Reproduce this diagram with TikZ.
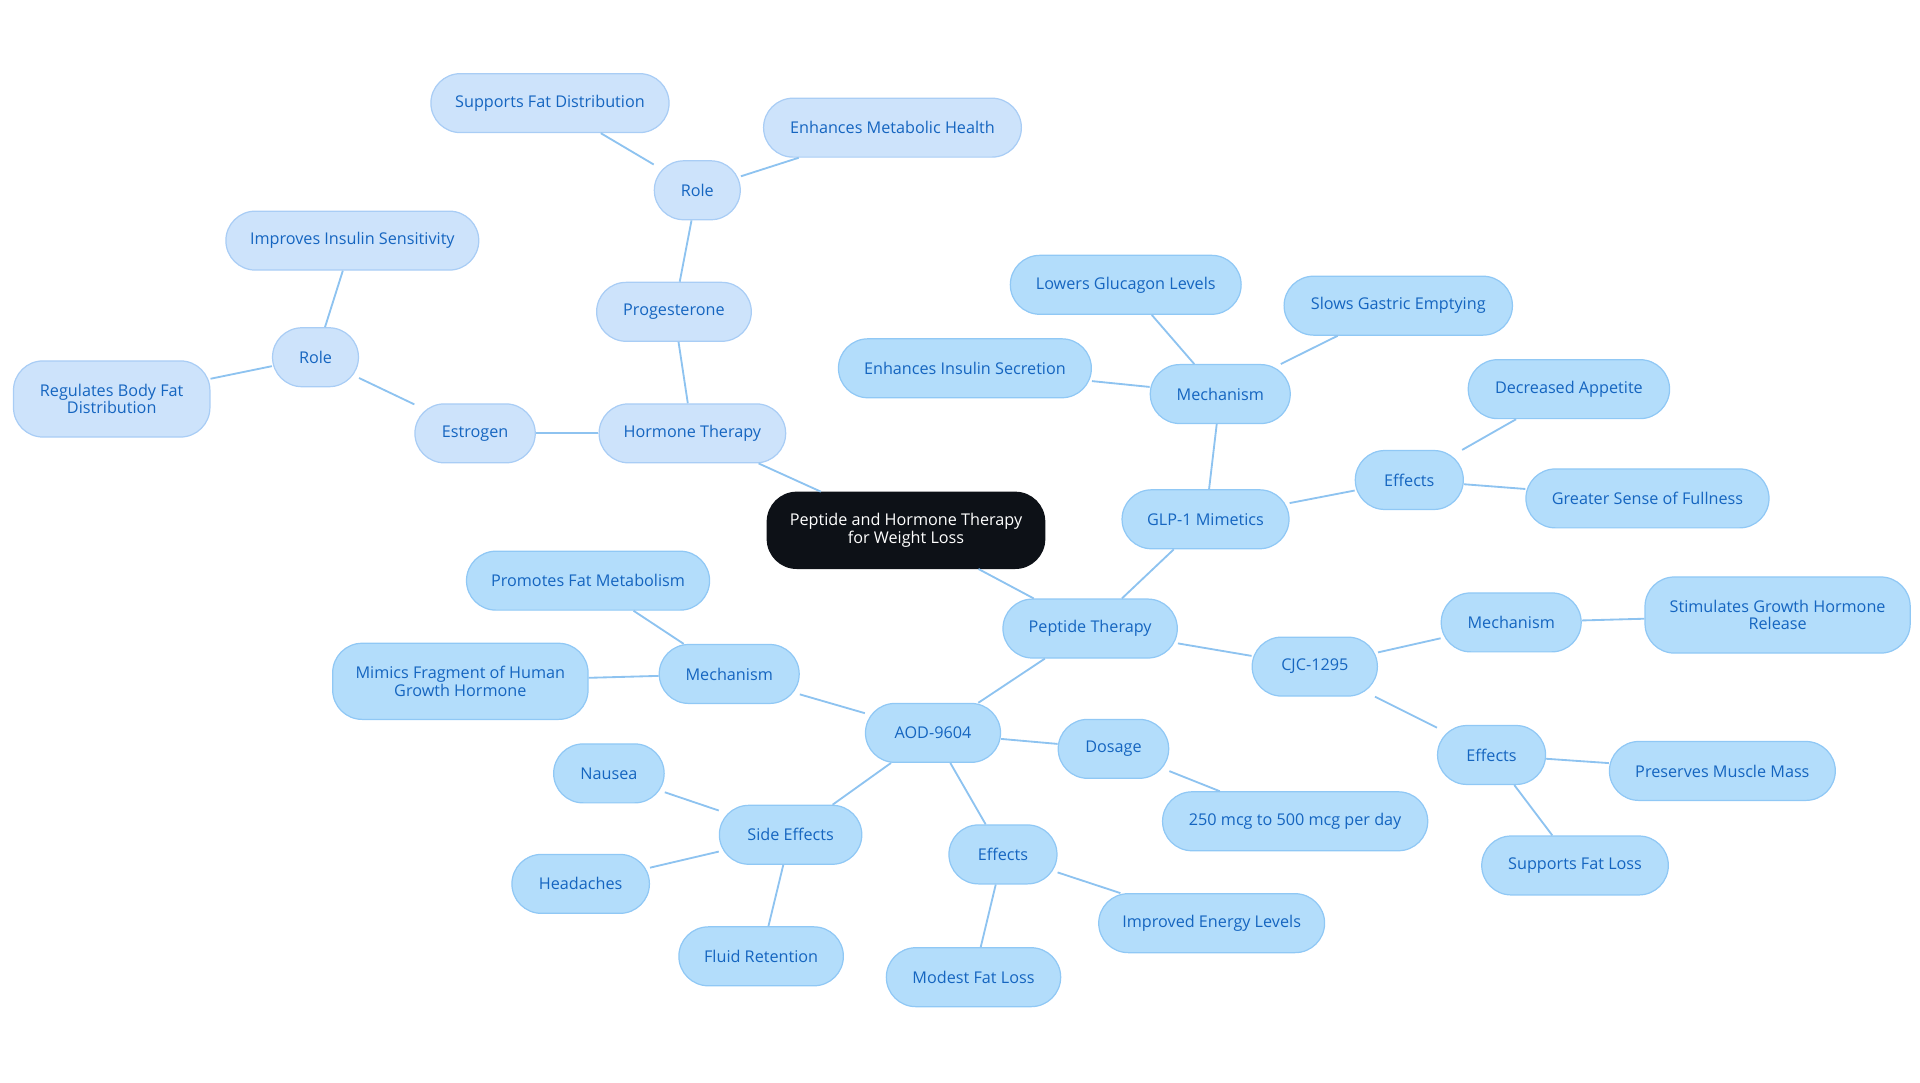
\documentclass[tikz,border=0pt]{standalone}
\usepackage{fontspec}
\setmainfont{Open Sans}
\definecolor{fillA}{HTML}{B3DDFB}
\definecolor{fillB}{HTML}{CDE3FB}
\definecolor{bordA}{HTML}{90C8F5}
\definecolor{bordB}{HTML}{A9CDF5}
\definecolor{txt}{HTML}{1565C0}
\definecolor{edge}{HTML}{8EC3F0}
\definecolor{rootc}{HTML}{0D1117}
\begin{document}
\begin{tikzpicture}[x=0.5pt,y=-0.5pt,
  base/.style={rounded corners=12pt,draw,line width=0.5pt,font=\fontsize{6.6pt}{7.2pt}\selectfont,text=txt,align=center,minimum height=24pt,inner sep=0pt},
  pa/.style={base,fill=fillA,draw=bordA},
  hb/.style={base,fill=fillB,draw=bordB},
  rootn/.style={base,fill=rootc,draw=rootc,text=white,minimum height=31pt},
  tall/.style={minimum height=31pt},
  conn/.style={draw=edge,line width=0.75pt}]
\useasboundingbox (0,0) rectangle (1564,882);
\node[rootn,minimum width=113pt] (root) at (738,432) {Peptide and Hormone Therapy\\for Weight Loss};
\node[hb,minimum width=76pt] (ht) at (564,353) {Hormone Therapy};
\node[hb,minimum width=63pt] (prog) at (549,254) {Progesterone};
\node[hb,minimum width=35pt] (role1) at (568,155) {Role};
\node[hb,minimum width=97pt] (sfd) at (448,84) {Supports Fat Distribution};
\node[hb,minimum width=105pt] (emh) at (727,104) {Enhances Metabolic Health};
\node[hb,minimum width=49pt] (estr) at (387,353) {Estrogen};
\node[hb,minimum width=35pt] (role2) at (257,291) {Role};
\node[hb,minimum width=103pt] (iis) at (287,196) {Improves Insulin Sensitivity};
\node[hb,tall,minimum width=80pt] (rbf) at (91,325) {Regulates Body Fat\\Distribution};
\node[pa,minimum width=71pt] (pt) at (888,512) {Peptide Therapy};
\node[pa,minimum width=68pt] (glp) at (982,423) {GLP-1 Mimetics};
\node[pa,minimum width=57pt] (mg) at (994,321) {Mechanism};
\node[pa,minimum width=94pt] (lgl) at (917,232) {Lowers Glucagon Levels};
\node[pa,minimum width=93pt] (sge) at (1139,249) {Slows Gastric Emptying};
\node[pa,minimum width=103pt] (eis) at (786,300) {Enhances Insulin Secretion};
\node[pa,minimum width=44pt] (eg) at (1148,391) {Effects};
\node[pa,minimum width=82pt] (da) at (1278,317) {Decreased Appetite};
\node[pa,minimum width=99pt] (gsf) at (1342,406) {Greater Sense of Fullness};
\node[pa,minimum width=51pt] (cjc) at (1071,543) {CJC-1295};
\node[pa,minimum width=57pt] (mc) at (1231,507) {Mechanism};
\node[pa,tall,minimum width=108pt] (sgh) at (1448,501) {Stimulates Growth Hormone\\Release};
\node[pa,minimum width=44pt] (ec) at (1215,615) {Effects};
\node[pa,minimum width=92pt] (pmm) at (1403,628) {Preserves Muscle Mass};
\node[pa,minimum width=76pt] (sfl) at (1283,705) {Supports Fat Loss};
\node[pa,minimum width=55pt] (aod) at (760,597) {AOD-9604};
\node[pa,minimum width=57pt] (ma) at (594,549) {Mechanism};
\node[pa,minimum width=99pt] (pfm) at (479,473) {Promotes Fat Metabolism};
\node[pa,tall,minimum width=104pt] (mfh) at (375,555) {Mimics Fragment of Human\\Growth Hormone};
\node[pa,minimum width=45pt] (dos) at (907,610) {Dosage};
\node[pa,minimum width=108pt] (mcg) at (1055,669) {250 mcg to 500 mcg per day};
\node[pa,minimum width=44pt] (ea) at (817,696) {Effects};
\node[pa,minimum width=92pt] (iel) at (987,752) {Improved Energy Levels};
\node[pa,minimum width=71pt] (mfl) at (793,796) {Modest Fat Loss};
\node[pa,minimum width=58pt] (se) at (644,680) {Side Effects};
\node[pa,minimum width=45pt] (nau) at (496,630) {Nausea};
\node[pa,minimum width=56pt] (hea) at (473,720) {Headaches};
\node[pa,minimum width=67pt] (flr) at (620,779) {Fluid Retention};
\begin{scope}[on background layer/.style={}]
\end{scope}
\foreach \a/\b in {root/ht,ht/prog,prog/role1,role1/sfd,role1/emh,ht/estr,estr/role2,role2/iis,role2/rbf,
 root/pt,pt/glp,glp/mg,mg/lgl,mg/sge,mg/eis,glp/eg,eg/da,eg/gsf,pt/cjc,cjc/mc,mc/sgh,cjc/ec,ec/pmm,ec/sfl,
 pt/aod,aod/ma,ma/pfm,ma/mfh,aod/dos,dos/mcg,aod/ea,ea/iel,ea/mfl,aod/se,se/nau,se/hea,se/flr}
 \draw[conn] (\a) -- (\b);
\end{tikzpicture}
\end{document}
